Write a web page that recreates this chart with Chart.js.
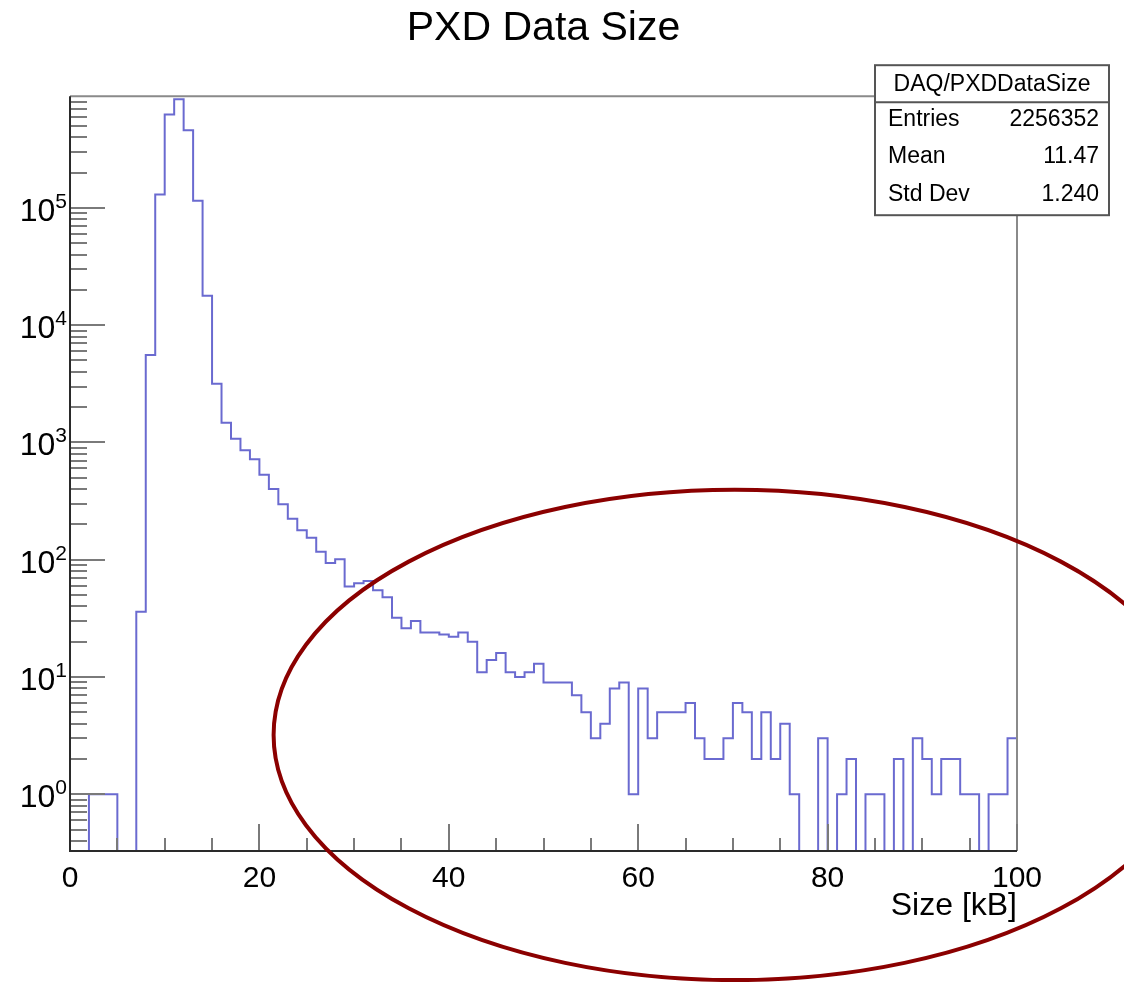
<!DOCTYPE html>
<html>
<head>
<meta charset="utf-8">
<title>PXD Data Size</title>
<script src="https://cdn.jsdelivr.net/npm/chart.js@4.4.1/dist/chart.umd.min.js"></script>
<style>
  html, body { margin: 0; padding: 0; background: #fff; }
  canvas { display: block; }
</style>
</head>
<body>
<canvas id="pxd" width="1124" height="982"></canvas>
<script>
// histogram: 100 bins of 1 kB, from 0 to 100 kB
const binEdgeStart = 0;
const binWidth = 1;
const counts = [
    0, 0, 1, 1, 1, 0, 0, 36, 5560, 130000,
    625000, 845000, 460000, 115000, 17800, 3160, 1470, 1075, 857, 718,
    531, 401, 298, 224, 178, 154, 117, 94, 101, 59,
    63, 66, 55, 48, 32, 26, 30, 24, 24, 23,
    22, 24, 20, 11, 14, 16, 11, 10, 11, 13,
    9, 9, 9, 7, 5, 3, 4, 8, 9, 1,
    8, 3, 5, 5, 5, 6, 3, 2, 2, 3,
    6, 5, 2, 5, 2, 4, 1, 0, 0, 3,
    0, 1, 2, 0, 1, 1, 0, 2, 0, 3,
    2, 1, 2, 2, 1, 1, 0, 1, 1, 3
];

const xRange = [0, 100];
const yRange = [0.3286, 896000];
const xMajorTicks = [0, 20, 40, 60, 80, 100];
const xMinorStep = 5;
const yDecades = [0, 1, 2, 3, 4, 5];

const statsTitle = 'DAQ/PXDDataSize';
const statsRows = [
    ['Entries', '2256352'],
    ['Mean', '11.47'],
    ['Std Dev', '1.240']
];

// the hand-drawn ring, in data units (x in kB, y in decades)
const ringCenter = [70.2, 0.506];
const ringRadius = [48.7, 2.09];

const FONT = "'Liberation Sans', Arial, Helvetica, sans-serif";
const lineColor = 'rgb(106, 106, 208)';

// zero bins sit on the frame bottom, as ROOT draws them
const points = counts.map((c, i) => ({ x: binEdgeStart + i * binWidth, y: c > 0 ? c : yRange[0] }));
points.push({ x: binEdgeStart + counts.length * binWidth, y: counts[counts.length - 1] > 0 ? counts[counts.length - 1] : yRange[0] });

const rootFrame = {
    id: 'rootFrame',
    afterDatasetsDraw(chart) {
        const { ctx, chartArea: a, scales: { x, y } } = chart;
        ctx.save();

        // top and right frame
        ctx.lineWidth = 2;
        ctx.strokeStyle = '#8a8a8a';
        ctx.beginPath();
        ctx.moveTo(a.left, a.top);
        ctx.lineTo(a.right, a.top);
        ctx.lineTo(a.right, a.bottom);
        ctx.stroke();

        // y ticks (inside)
        ctx.strokeStyle = '#7a7a7a';
        ctx.beginPath();
        for (let e = -1; e <= 6; e++) {
            for (let m = 1; m <= 9; m++) {
                const v = m * Math.pow(10, e);
                if (v < yRange[0] || v > yRange[1]) continue;
                const py = Math.round(y.getPixelForValue(v));
                const len = m === 1 ? 35 : 17;
                ctx.moveTo(a.left, py);
                ctx.lineTo(a.left + len, py);
            }
        }
        // x ticks (inside)
        for (let v = xRange[0]; v <= xRange[1]; v += xMinorStep) {
            const px = Math.round(x.getPixelForValue(v));
            const len = xMajorTicks.includes(v) ? 27 : 13;
            ctx.moveTo(px, a.bottom);
            ctx.lineTo(px, a.bottom - len);
        }
        ctx.stroke();

        // left and bottom axes
        ctx.strokeStyle = '#2a2a2a';
        ctx.beginPath();
        ctx.moveTo(a.left, a.top);
        ctx.lineTo(a.left, a.bottom);
        ctx.lineTo(a.right, a.bottom);
        ctx.stroke();

        // tick labels
        ctx.fillStyle = '#000';
        ctx.textBaseline = 'alphabetic';
        ctx.textAlign = 'center';
        ctx.font = '30px ' + FONT;
        xMajorTicks.forEach(v => {
            ctx.fillText(String(v), x.getPixelForValue(v), a.bottom + 36);
        });

        yDecades.forEach(e => {
            const py = y.getPixelForValue(Math.pow(10, e));
            const right = a.left - 3;
            ctx.font = '21px ' + FONT;
            ctx.textAlign = 'right';
            const supW = ctx.measureText(String(e)).width;
            ctx.fillText(String(e), right, py);
            ctx.font = '32px ' + FONT;
            ctx.fillText('10', right - supW, py + 13);
        });

        // axis title
        ctx.font = '32px ' + FONT;
        ctx.textAlign = 'right';
        ctx.fillText('Size [kB]', a.right, a.bottom + 64);

        ctx.restore();
    }
};

const statsBox = {
    id: 'statsBox',
    afterDraw(chart) {
        const { ctx, chartArea: a } = chart;
        const left = a.right - 142, right = a.right + 92;
        const top = a.top - 31, bottom = a.top + 119;
        ctx.save();
        ctx.fillStyle = '#fff';
        ctx.fillRect(left, top, right - left, bottom - top);
        ctx.strokeStyle = '#555';
        ctx.lineWidth = 2;
        ctx.strokeRect(left, top, right - left, bottom - top);
        ctx.beginPath();
        ctx.moveTo(left, top + 37);
        ctx.lineTo(right, top + 37);
        ctx.stroke();

        ctx.fillStyle = '#000';
        ctx.font = '23px ' + FONT;
        ctx.textBaseline = 'middle';
        ctx.textAlign = 'center';
        ctx.fillText(statsTitle, (left + right) / 2, top + 19);
        statsRows.forEach((row, i) => {
            const ty = top + 54 + i * 37.5;
            ctx.textAlign = 'left';
            ctx.fillText(row[0], left + 13, ty);
            ctx.textAlign = 'right';
            ctx.fillText(row[1], right - 10, ty);
        });
        ctx.restore();
    }
};

const ring = {
    id: 'ring',
    afterDraw(chart) {
        const { ctx, scales: { x, y } } = chart;
        const cx = x.getPixelForValue(ringCenter[0]);
        const cy = y.getPixelForValue(Math.pow(10, ringCenter[1]));
        const rx = x.getPixelForValue(ringCenter[0] + ringRadius[0]) - cx;
        const ry = cy - y.getPixelForValue(Math.pow(10, ringCenter[1] + ringRadius[1]));
        ctx.save();
        ctx.strokeStyle = '#8b0000';
        ctx.lineWidth = 4;
        ctx.beginPath();
        ctx.ellipse(cx, cy, rx, ry, 0, 0, Math.PI * 2);
        ctx.stroke();
        ctx.restore();
    }
};

new Chart(document.getElementById('pxd'), {
    type: 'line',
    data: {
        datasets: [{
            label: 'DAQ/PXDDataSize',
            data: points,
            stepped: true,
            borderColor: lineColor,
            borderWidth: 2,
            pointRadius: 0,
            fill: false,
            tension: 0
        }]
    },
    options: {
        responsive: false,
        animation: false,
        layout: {
            padding: { left: 70, right: 107, top: 0, bottom: 131 }
        },
        scales: {
            x: { type: 'linear', bounds: 'data', min: xRange[0], max: xRange[1], display: false },
            y: { type: 'logarithmic', bounds: 'data', min: yRange[0], max: yRange[1], display: false }
        },
        plugins: {
            legend: { display: false },
            tooltip: { enabled: false },
            title: {
                display: true,
                text: 'PXD Data Size',
                color: '#000',
                font: { family: FONT, size: 41, weight: 'normal', lineHeight: 1.2 },
                padding: { top: 4, bottom: 43 }
            }
        }
    },
    plugins: [rootFrame, statsBox, ring]
});
</script>
</body>
</html>
